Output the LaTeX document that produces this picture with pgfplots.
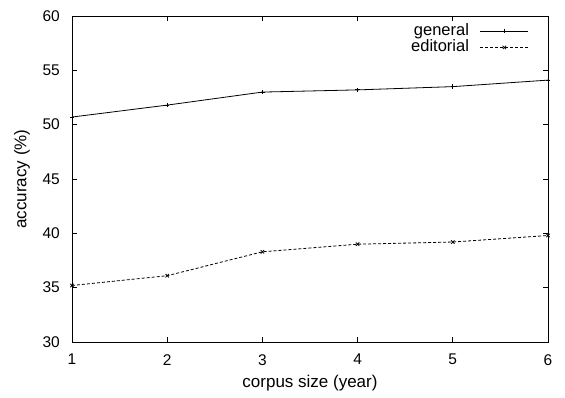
\documentclass[border=0pt]{standalone}
\usepackage{fontspec}
\setmainfont{Liberation Sans}
\usepackage{pgfplots}
\pgfplotsset{compat=1.18}
\begin{document}
\begin{tikzpicture}
\useasboundingbox (-72pt,-56pt) rectangle (493pt,342pt);
\begin{axis}[
  at={(0,0)}, anchor=south west,
  scale only axis, width=476pt, height=326pt,
  xmin=1, xmax=6, ymin=30, ymax=60,
  xtick={1,2,3,4,5,6}, ytick={30,35,40,45,50,55,60},
  /pgf/number format/assume math mode=true,
  tick align=inside, major tick length=5pt,
  axis line style={line width=0.9pt},
  every tick/.style={line width=0.8pt, black},
  ticklabel style={font=\fontsize{15.5}{18}\selectfont, inner sep=0pt},
  xticklabel shift=12pt, yticklabel shift=12pt,
  xlabel={corpus size (year)}, ylabel={accuracy (\%)},
  label style={font=\fontsize{17}{20}\selectfont},
  xlabel style={at={(axis description cs:0.5,-0.1258)}, anchor=center},
  ylabel style={at={(axis description cs:-0.105,0.5)}, anchor=center},
  legend cell align=right,
  legend plot pos=right,
  legend image code/.code={\draw[#1, mark repeat=2, mark phase=2] plot coordinates {(0pt,0pt) (24pt,0pt) (48pt,0pt)};},
  legend style={draw=none, fill=none, at={(rel axis cs:0.96,0.98)}, anchor=north east,
    font=\fontsize{16.5}{19}\selectfont, inner sep=0pt, row sep=0pt, column sep=11pt,
    nodes={inner sep=0pt, text height=12.5pt, text depth=4pt}},
]
\addplot[black, line width=0.8pt, mark=+, mark size=2.2pt, mark options={solid}] coordinates {
 (1,50.7) (2,51.8) (3,53.0) (4,53.2) (5,53.5) (6,54.1)};
\addlegendentry{general}
\addplot[black, line width=0.8pt, dash pattern=on 3pt off 2pt, mark=x, mark size=2.4pt, mark options={solid}] coordinates {
 (1,35.2) (2,36.1) (3,38.3) (4,39.0) (5,39.2) (6,39.8)};
\addlegendentry{editorial}
\end{axis}
\end{tikzpicture}
\end{document}
